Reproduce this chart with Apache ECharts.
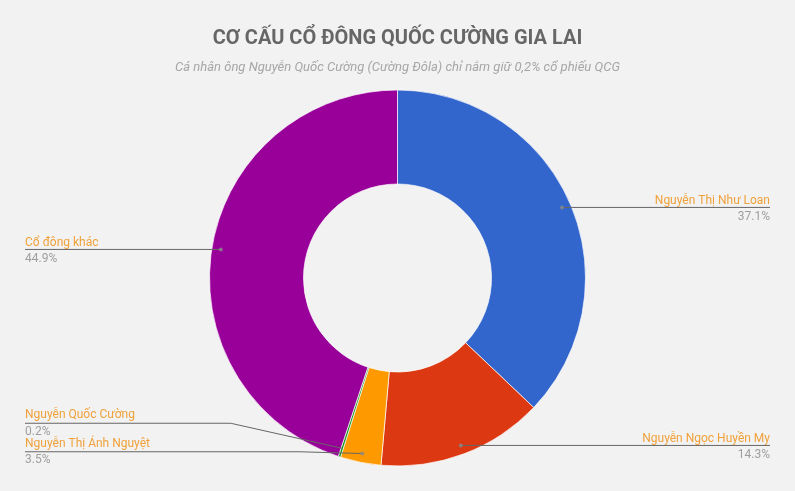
<!DOCTYPE html>
<html><head><meta charset="utf-8">
<script src="https://cdn.jsdelivr.net/npm/echarts@6/dist/echarts.min.js"></script>
<style>html,body{margin:0;padding:0;background:#f2f2f2}#c{width:795px;height:491px}</style>
</head><body><div id="c"></div>
<script>
const names = ['Nguyễn Thị Như Loan', 'Nguyễn Ngọc Huyền My', 'Nguyễn Thị Ánh Nguyệt', 'Nguyễn Quốc Cường', 'Cổ đông khác'];
const values = [37.1, 14.3, 3.5, 0.2, 44.9];
const colors = ['#3366cc', '#dc3912', '#ff9900', '#109618', '#990099'];
const titleText = 'CƠ CẤU CỔ ĐÔNG QUỐC CƯỜNG GIA LAI';
const subtitleText = 'Cá nhân ông Nguyễn Quốc Cường (Cường Đôla) chỉ nắm giữ 0,2% cổ phiếu QCG';

const chart = echarts.init(document.getElementById('c'));
const total = values.reduce((a, b) => a + b, 0);
let cum = 0;
const dots = [];
values.forEach((v, i) => {
  const mid = cum + v / 2;
  cum += v;
  if (v >= 1) dots.push([179, mid / total * 100]);
});
const CX = 397.5, CY = 278, R = 188, RD = 179;

const pieBase = {
  type: 'pie',
  left: 0, right: 0, top: 0, bottom: 25,
  center: [CX, CY],
  radius: [94, R],
  startAngle: 90,
  clockwise: true
};

chart.setOption({
  backgroundColor: '#f2f2f2',
  animation: false,
  title: [{
    text: titleText, left: 'center', top: 24,
    textStyle: { fontFamily: 'Roboto', fontWeight: 'bold', fontSize: 20, color: '#666666' }
  }, {
    text: subtitleText, left: 'center', top: 56,
    textStyle: { fontFamily: 'Roboto', fontStyle: 'italic', fontWeight: 'normal', fontSize: 13, color: '#a6a6a6' }
  }],
  polar: { center: [CX, CY], radius: R },
  angleAxis: { min: 0, max: 100, startAngle: 90, clockwise: true, show: false },
  radiusAxis: { min: 0, max: R, show: false },
  series: [Object.assign({}, pieBase, {
    z: 2,
    data: names.map((n, i) => ({ name: n, value: values[i], itemStyle: { color: colors[i] } })),
    itemStyle: { borderColor: '#ffffff', borderWidth: 0.7 },
    label: { show: false },
    labelLine: { show: false }
  }), Object.assign({}, pieBase, {
    z: 5,
    silent: true,
    avoidLabelOverlap: true,
    data: names.map((n, i) => ({ name: n, value: values[i] })),
    itemStyle: { color: 'rgba(0,0,0,0)', borderWidth: 0 },
    label: {
      show: true,
      position: 'outer',
      alignTo: 'edge',
      edgeDistance: 25,
      minMargin: 0,
      fontFamily: 'Roboto',
      formatter: p => '{n|' + p.name + '}\n{p|' + p.value.toFixed(1) + '%}',
      rich: {
        n: { fontFamily: 'Roboto', fontSize: 12, color: '#f0a13a', lineHeight: 20 },
        p: { fontFamily: 'Roboto', fontSize: 12, color: '#9e9e9e', lineHeight: 13 }
      }
    },
    labelLine: { show: true, showAbove: true, length: 0, length2: 10, lineStyle: { color: '#666666', width: 1 } },
    labelLayout: function (params) {
      const w = chart.getWidth();
      const rect = params.labelRect;
      const isLeft = rect.x < w / 2;
      const pts = params.labelLinePoints;
      if (!pts) return {};
      const p0 = pts[0];
      const dx = p0[0] - CX, dy = p0[1] - CY;
      const d = Math.sqrt(dx * dx + dy * dy) || 1;
      const start = [CX + dx / d * RD, CY + dy / d * RD];
      const lineY = rect.y + rect.height / 2;
      const res = {};
      let y = lineY;
      if (Math.abs(p0[1] - lineY) < 5) {
        y = start[1];
        res.y = start[1];
      }
      const endX = isLeft ? rect.x : rect.x + rect.width;
      res.labelLinePoints = [start, [pts[1][0], y], [endX, y]];
      return res;
    }
  }), {
    type: 'scatter',
    coordinateSystem: 'polar',
    symbolSize: 4,
    itemStyle: { color: '#8a8a8a' },
    data: dots,
    silent: true,
    z: 10
  }]
});
</script></body></html>
